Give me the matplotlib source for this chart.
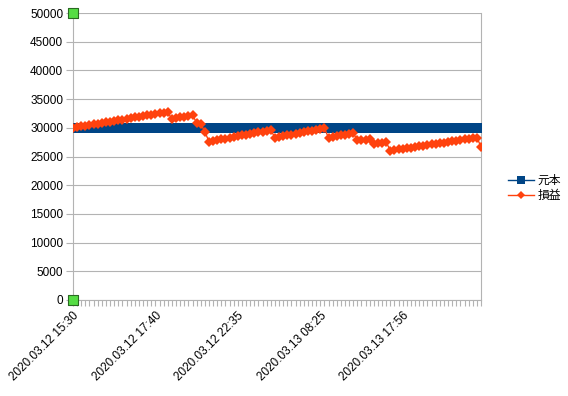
import matplotlib
matplotlib.use("Agg")
import matplotlib.pyplot as plt
import numpy as np

plt.rcParams["font.family"] = ["Liberation Sans", "Noto Sans CJK JP", "DejaVu Sans"]

principal = [30000] * 100
pnl = [
    30000, 30120, 30240, 30360, 30480, 30600, 30720, 30840, 30960, 31080,
    31200, 31320, 31440, 31560, 31680, 31800, 31920, 32040, 32160, 32280,
    32400, 32520, 32640, 32750,
    31500, 31650, 31800, 31950, 32100, 32200,
    30900, 30700, 29300,
    27600, 27730, 27870, 28000, 28130, 28270, 28400, 28530, 28670, 28800,
    28930, 29070, 29200, 29330, 29470, 29600,
    28300, 28430, 28570, 28700, 28830, 28970, 29100, 29230, 29370, 29500,
    29630, 29770, 29900,
    28300, 28430, 28570, 28700, 28830, 28970, 29100,
    27800, 27870, 27930, 28000,
    27200, 27300, 27400, 27500,
    26000, 26110, 26220, 26330, 26440, 26550, 26660, 26770, 26880, 26990,
    27100, 27210, 27320, 27430, 27540, 27650, 27760, 27870, 27980, 28090,
    28200, 28300,
    26700,
]
label_idx = [0, 20, 40, 60, 80]
labels = ["2020.03.12 15:30", "2020.03.12 17:40", "2020.03.12 22:35",
          "2020.03.13 08:25", "2020.03.13 17:56"]
extra_x = [0, 0]
extra_y = [0, 50000]

x = np.arange(len(pnl))

fig = plt.figure(figsize=(5.68, 3.96), dpi=100)
ax = fig.add_axes([73 / 568, 96 / 396, 408 / 568, 287 / 396])

ax.plot(x, principal, color="#004586", lw=1, marker="s", ms=7,
        markeredgewidth=0, label="元本", zorder=3)
ax.plot(x, pnl, color="#ff420e", lw=1, marker="D", ms=5.5,
        markeredgewidth=0, label="損益", zorder=4)
ax.scatter(extra_x, extra_y, marker="s", s=60, color="#55dd44",
           edgecolors="#2a6a22", linewidths=0.8, clip_on=False, zorder=5)

ax.set_xlim(0, len(pnl) - 1)
ax.set_ylim(0, 50000)
ax.set_yticks(range(0, 50001, 5000))
ax.yaxis.grid(True, color="#b3b3b3", lw=0.8)
ax.set_axisbelow(True)

ax.set_xticks(label_idx)
ax.set_xticklabels(labels, rotation=45, ha="right", rotation_mode="anchor")
ax.set_xticks(x, minor=True)

for s in ["left", "bottom", "right"]:
    ax.spines[s].set_color("#b3b3b3")
ax.spines["top"].set_visible(False)
ax.tick_params(axis="both", which="both", color="#b3b3b3", labelsize=8.5,
               labelcolor="#000000")
ax.tick_params(axis="x", which="both", length=4, width=0.8, pad=3)
ax.tick_params(axis="y", length=5, pad=2)

ax.legend(loc="center left", bbox_to_anchor=(1.04, 0.39), frameon=False,
          handlelength=2.2, handletextpad=0.3, labelspacing=0.15,
          markerscale=0.8,
          prop={"family": ["Noto Sans CJK JP"], "size": 8.5})

fig.savefig("out.png", dpi=100)
